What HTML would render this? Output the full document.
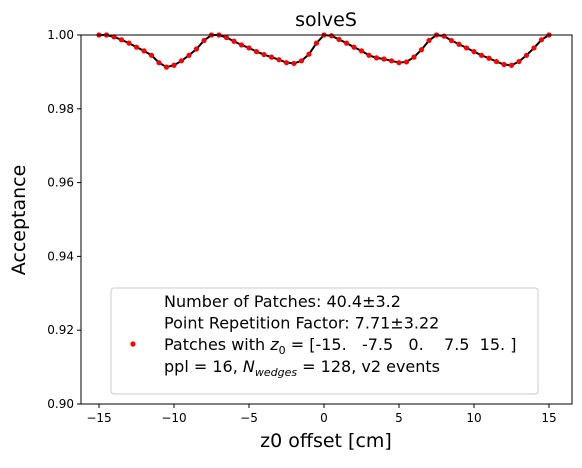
<!DOCTYPE html>
<html><head><meta charset="utf-8"><style>body{margin:0;background:#fff}svg{font-family:"DejaVu Sans","Liberation Sans",sans-serif}svg text{white-space:pre}</style></head>
<body>
<svg id="c" width="582" height="463"></svg>
<script>
const xs=[];for(let i=0;i<=60;i++)xs.push(-15+i*0.5);
const ys=[1.0,1.0,0.9995,0.9987,0.9978,0.9967,0.9957,0.9945,0.9925,0.9913,0.9918,0.9930,0.9945,0.9962,0.9985,1.0,
1.0,0.9993,0.9983,0.9973,0.9965,0.9955,0.9947,0.9940,0.9933,0.9925,0.9923,0.9930,0.9948,0.9978,1.0,
0.9998,0.9988,0.9978,0.9967,0.9957,0.9945,0.9938,0.9935,0.9930,0.9925,0.9927,0.9940,0.9960,0.9985,1.0,
0.9997,0.9985,0.9975,0.9965,0.9955,0.9945,0.9937,0.9928,0.9920,0.9918,0.9928,0.9945,0.9965,0.9987,1.0];
const xTicks=[-15,-10,-5,0,5,10,15];
const yTicks=[0.90,0.92,0.94,0.96,0.98,1.00];
const L=81,R=572,T=35,B=404;
const sx=v=>324+v*15, sy=v=>B-(v-0.9)/0.1*(B-T);
const s=document.getElementById('c');const NS='http://www.w3.org/2000/svg';
function mk(t,a,txt){const e=document.createElementNS(NS,t);for(const k in a)e.setAttribute(k,a[k]);if(txt!=null)e.textContent=txt;s.appendChild(e);return e;}
let e=mk('text',{x:326,y:26,'text-anchor':'middle','font-size':19},'solveS');


const dc=mk('clipPath',{id:'cp'});const cr=document.createElementNS(NS,'rect');cr.setAttribute('x',L);cr.setAttribute('y',T-4);cr.setAttribute('width',R-L);cr.setAttribute('height',B-T+4);dc.appendChild(cr);
const g=mk('g',{'clip-path':'url(#cp)'});
const pl=document.createElementNS(NS,'polyline');
pl.setAttribute('points',xs.map((x,i)=>sx(x)+','+sy(ys[i])).join(' '));
pl.setAttribute('fill','none');pl.setAttribute('stroke','#000');pl.setAttribute('stroke-width','2');


g.appendChild(pl);
xs.forEach((x,i)=>{const c=document.createElementNS(NS,'circle');c.setAttribute('cx',sx(x));c.setAttribute('cy',sy(ys[i]));c.setAttribute('r',2.6);c.setAttribute('fill','#f00');


g.appendChild(c);});
e=mk('rect',{x:L,y:T,width:R-L,height:B-T,fill:'none',stroke:'#000','stroke-width':1});


xTicks.forEach(t=>{mk('line',{x1:sx(t),x2:sx(t),y1:B,y2:B+4,stroke:'#000'});
e=mk('text',{x:sx(t),y:B+18,'text-anchor':'middle','font-size':12},t<0?'\u2212'+(-t):t);

});
yTicks.forEach(t=>{mk('line',{x1:L-4,x2:L,y1:sy(t),y2:sy(t),stroke:'#000'});
e=mk('text',{x:L-7,y:sy(t)+4,'text-anchor':'end','font-size':12},t.toFixed(2));

});
e=mk('text',{x:326,y:447,'text-anchor':'middle','font-size':19},'z0 offset [cm]');


e=mk('text',{x:25,y:220,'text-anchor':'middle','font-size':19,transform:'rotate(-90 25 220)'},'Acceptance');


e=mk('rect',{x:111,y:288,width:427,height:106,rx:3,fill:'#fff','fill-opacity':0.8,stroke:'#ccc'});


mk('circle',{cx:133,cy:344,r:2.6,fill:'#f00'});
const lt=['Number of Patches: 40.4\u00b13.2','Point Repetition Factor: 7.71\u00b13.22'];
lt.forEach((t,i)=>{e=mk('text',{x:164,y:307+i*21.5,'font-size':16},t);

});
e=mk('text',{x:164,y:350,'font-size':16});
e.innerHTML='Patches with <tspan font-style="italic">z</tspan><tspan font-size="11" dy="4">0</tspan><tspan dy="-4"> = [-15.   -7.5   0.    7.5  15. ]</tspan>';


e=mk('text',{x:164,y:372,'font-size':16});
e.innerHTML='ppl = 16, <tspan font-style="italic">N</tspan><tspan font-size="11" dy="4" font-style="italic">wedges</tspan><tspan dy="-4"> = 128, v2 events</tspan>';


</script>
</body></html>
